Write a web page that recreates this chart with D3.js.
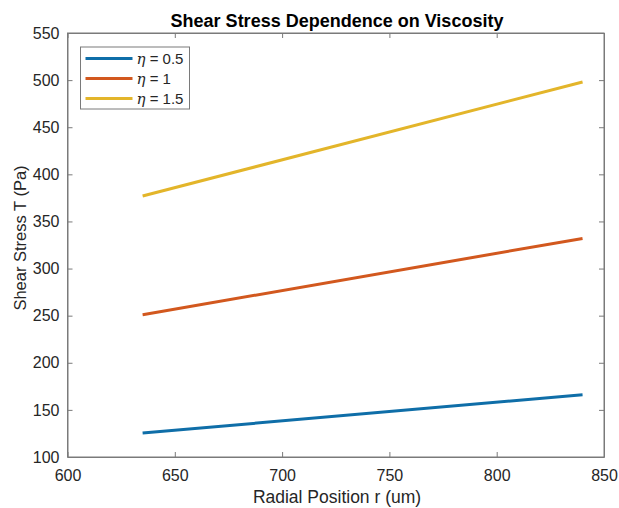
<!DOCTYPE html>
<html>
<head>
<meta charset="utf-8">
<script src="https://cdn.jsdelivr.net/npm/d3@7"></script>
<style>
  body { margin: 0; background: #fff; }
  text { font-family: Arial, "Liberation Sans", sans-serif; }
</style>
</head>
<body>
<div id="chart"></div>
<script>
// radial positions (um) at the ends of each line
const radius = [635, 840];
// shear stress (Pa) for each viscosity
const stressLow = [125.5, 166];
const stressMid = [251, 332];
const stressHigh = [377, 498];
const seriesNames = ["0.5", "1", "1.5"];
const seriesColors = ["#0f6ea8", "#d2581e", "#e3b52a"];
const xTicks = [600, 650, 700, 750, 800, 850];
const yTicks = [100, 150, 200, 250, 300, 350, 400, 450, 500, 550];

const W = 619, H = 508;
const margin = { top: 33, right: 15, bottom: 51, left: 67.5 };
const width = W - margin.left - margin.right;
const height = H - margin.top - margin.bottom;

const svg = d3.select("#chart").append("svg")
    .attr("width", W)
    .attr("height", H);

const g = svg.append("g")
    .attr("transform", "translate(" + margin.left + "," + margin.top + ")");

const x = d3.scaleLinear().domain([600, 850]).range([0, width]);
const y = d3.scaleLinear().domain([100, 550]).range([height, 0]);

const axisColor = "#7a7a7a";
const textColor = "#262626";

// box
g.append("rect")
    .attr("width", width).attr("height", height)
    .attr("fill", "none").attr("stroke", axisColor).attr("stroke-width", 1);

// axes (ticks inward)
g.append("g").attr("transform", "translate(0," + height + ")")
    .call(d3.axisBottom(x).tickValues(xTicks).tickSizeInner(-5).tickSizeOuter(0).tickPadding(13));
g.append("g")
    .call(d3.axisLeft(y).tickValues(yTicks).tickSizeInner(-5).tickSizeOuter(0).tickPadding(8));
// top and right ticks
g.append("g").call(d3.axisTop(x).tickValues(xTicks).tickSizeInner(-5).tickSizeOuter(0).tickFormat(""));
g.append("g").attr("transform", "translate(" + width + ",0)")
    .call(d3.axisRight(y).tickValues(yTicks).tickSizeInner(-5).tickSizeOuter(0).tickFormat(""));

g.selectAll(".domain").attr("stroke", axisColor);
g.selectAll(".tick line").attr("stroke", axisColor);
g.selectAll(".tick text").attr("fill", textColor).style("font-size", "16px");

// lines
const allSeries = [stressLow, stressMid, stressHigh];
const line = d3.line().x((d, i) => x(radius[i])).y(d => y(d));
g.selectAll(".series")
    .data(allSeries)
    .enter().append("path")
    .attr("class", "series")
    .attr("d", line)
    .attr("fill", "none")
    .attr("stroke", (d, i) => seriesColors[i])
    .attr("stroke-width", 3);

// title
svg.append("text")
    .attr("x", 337)
    .attr("y", 27)
    .attr("text-anchor", "middle")
    .style("font-size", "18px")
    .style("font-weight", "bold")
    .attr("fill", "#000")
    .text("Shear Stress Dependence on Viscosity");

// axis labels
svg.append("text")
    .attr("x", 337)
    .attr("y", 503)
    .attr("text-anchor", "middle")
    .style("font-size", "17.5px")
    .attr("fill", textColor)
    .text("Radial Position r (um)");

svg.append("text")
    .attr("transform", "translate(26,238) rotate(-90)")
    .attr("text-anchor", "middle")
    .style("font-size", "16.5px")
    .attr("fill", textColor)
    .text("Shear Stress T (Pa)");

// legend
const legend = g.append("g").attr("transform", "translate(13,14)");
legend.append("rect")
    .attr("width", 109).attr("height", 62)
    .attr("fill", "#fff").attr("stroke", axisColor);
seriesNames.forEach((name, i) => {
    const ly = 11.5 + i * 20;
    legend.append("line")
        .attr("x1", 5).attr("x2", 52).attr("y1", ly).attr("y2", ly)
        .attr("stroke", seriesColors[i]).attr("stroke-width", 3);
    const t = legend.append("text")
        .attr("x", 56).attr("y", ly + 5)
        .style("font-size", "15px")
        .attr("fill", textColor);
    t.append("tspan")
        .style("font-family", "'DejaVu Serif', 'Liberation Serif', serif")
        .style("font-style", "italic")
        .text("η");
    t.append("tspan").text(" = " + name);
});
</script>
</body>
</html>
